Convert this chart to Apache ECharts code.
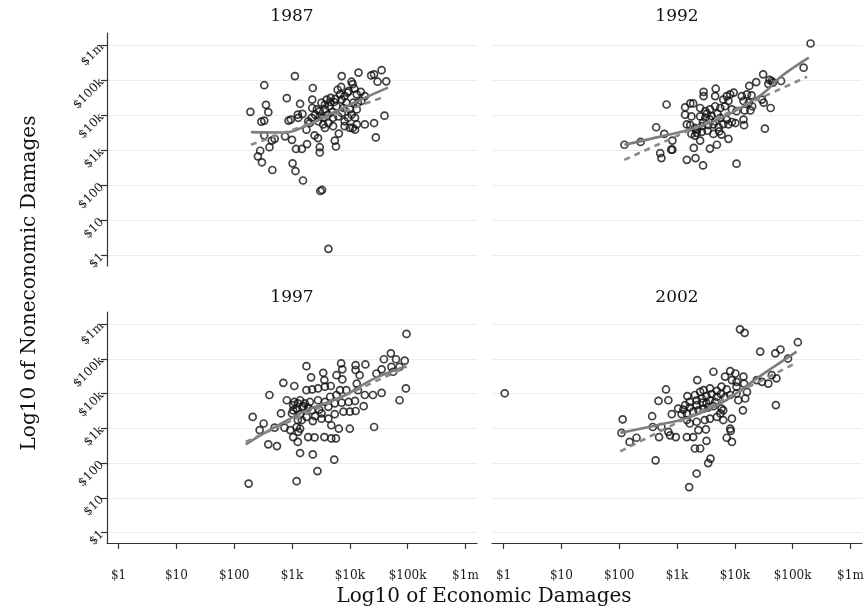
<!DOCTYPE html>
<html><head><meta charset="utf-8">
<script src="https://cdn.jsdelivr.net/npm/echarts@6/dist/echarts.min.js"></script>
<style>html,body{margin:0;padding:0;background:#fff}#c{width:867px;height:610px}</style>
</head><body><div id="c"></div>
<script>
// Values are log10 of dollars
const tickValues = [0, 1, 2, 3, 4, 5, 6];
const tickLabels = ['$1', '$10', '$100', '$1k', '$10k', '$100k', '$1m'];
const years = ['1987', '1992', '1997', '2002'];
const xTitle = 'Log10 of Economic Damages';
const yTitle = 'Log10 of Noneconomic Damages';

const pts1987 = [[3.05,5.12],[2.52,4.86],[3.86,5.12],[4.15,5.22],[4.42,5.17],[4.55,5.29],[4.48,4.96],[4.63,4.97],[4.37,5.14],[4.03,4.96],[4.05,4.89],[3.36,4.78],[3.85,4.81],[3.79,4.73],[3.96,4.65],[4.08,4.76],[4.19,4.67],[4.26,4.55],[2.91,4.49],[3.14,4.33],[3.35,4.45],[2.28,4.10],[2.55,4.30],[2.59,4.09],[2.47,3.82],[2.52,3.85],[2.94,3.85],[2.98,3.88],[3.10,4.02],[3.18,4.04],[3.11,3.93],
[3.51,4.36],[3.60,4.45],[3.67,4.50],[3.75,4.47],[3.64,4.26],[3.57,4.17],[3.48,4.12],[3.40,4.02],[3.45,3.83],[3.54,3.74],[3.63,3.78],[3.71,3.69],[3.80,3.97],[3.86,4.07],[3.91,3.83],[3.97,3.93],[4.03,4.02],[4.09,3.93],[4.12,4.17],[4.14,4.36],[4.06,4.36],[3.94,4.36],[3.86,4.45],[3.77,4.26],[3.70,4.09],[3.62,4.02],[3.43,4.17],[3.35,4.21],[3.31,3.78],[3.25,3.59],
[4.26,3.74],[4.42,3.78],[4.60,3.99],[4.45,3.37],[4.00,3.64],[4.09,3.59],[3.81,3.48],[3.74,3.28],[3.76,3.11],[3.39,3.43],[3.45,3.35],[3.26,3.18],[3.17,3.04],[3.07,3.04],[3.48,3.09],[3.48,2.94],
[2.52,3.43],[2.70,3.33],[2.65,3.28],[2.61,3.09],[2.45,2.99],[2.41,2.83],[2.48,2.66],[2.66,2.44],[2.88,3.40],[3.00,3.30],[3.01,2.63],[3.06,2.41],[3.19,2.14],[3.49,1.84],[3.52,1.87],[3.63,0.19],
[3.57,4.31],[3.66,4.38],[3.73,4.38],[3.83,4.60],[3.91,4.55],[3.98,4.69],[4.12,4.60],[4.20,4.41],[4.00,4.17],[3.89,4.21],[3.71,3.93],[3.54,3.93],[3.48,3.97],[3.57,3.64],[4.12,3.74],[4.05,3.64],[3.91,3.69],[3.34,3.93],[3.28,3.83]];

const pts1992 = [[5.31,6.05],[5.19,5.36],[4.49,5.17],[4.60,5.01],[4.64,4.98],[4.66,4.93],[4.58,4.90],[4.80,4.98],[4.37,4.95],[4.25,4.84],[3.67,4.76],[3.46,4.67],[3.46,4.55],[3.66,4.55],[3.86,4.55],[3.92,4.60],[3.98,4.65],[3.80,4.45],[3.89,4.41],[4.12,4.55],[4.21,4.60],[4.29,4.57],[4.15,4.41],[4.24,4.36],[4.30,4.26],[4.47,4.45],[4.50,4.36],[4.62,4.21],[2.82,4.31],[3.14,4.23],[3.23,4.34],[3.28,4.34],
[3.40,4.21],[3.49,4.12],[3.57,4.17],[3.66,4.26],[3.75,4.21],[3.83,4.26],[3.95,4.17],[4.03,4.12],[4.17,4.14],[4.27,4.14],
[3.14,4.02],[3.25,3.97],[3.40,3.97],[3.49,3.93],[3.57,3.88],[3.66,3.83],[3.75,3.93],[3.86,3.88],[3.95,3.81],[4.15,3.88],
[3.17,3.74],[3.23,3.72],[3.31,3.64],[3.43,3.69],[3.54,3.72],[3.63,3.74],[3.72,3.66],[3.80,3.75],[3.89,3.74],[4.01,3.78],[4.16,3.72],
[2.64,3.66],[2.78,3.47],[2.92,3.28],[3.25,3.47],[3.34,3.50],[3.43,3.53],[3.53,3.56],[3.63,3.47],[3.77,3.45],[3.73,3.54],[3.40,3.28],[3.31,3.42],[3.89,3.33],[4.52,3.62],
[2.09,3.16],[2.37,3.24],[2.90,3.02],[2.92,3.02],[2.71,2.92],[2.73,2.78],[3.29,3.07],[3.57,3.05],[3.69,3.16],[3.17,2.73],[3.32,2.78],[3.45,2.57],[4.03,2.62],
[3.52,4.05],[3.60,3.98],[3.70,4.05],[3.45,3.80],[3.35,3.60]];

const pts1997 = [[4.98,5.72],[4.71,5.16],[4.59,4.99],[4.80,4.99],[4.95,4.95],[4.72,4.77],[4.55,4.70],[4.46,4.58],[4.75,4.63],[4.86,4.77],[4.97,4.15],[4.86,3.81],
[3.85,4.87],[3.87,4.70],[4.10,4.82],[4.10,4.68],[4.27,4.84],[3.25,4.79],[3.54,4.60],[3.77,4.53],[3.87,4.41],
[3.33,4.47],[2.85,4.31],[3.04,4.22],[3.56,4.39],[3.67,4.22],[3.25,4.10],[3.35,4.12],[3.45,4.15],[3.57,4.20],
[3.83,4.10],[3.94,4.10],[4.12,4.29],[4.17,4.53],[4.14,4.10],[4.26,3.96],[4.40,3.96],[4.55,4.02],
[2.61,3.96],[2.91,3.81],[3.04,3.76],[3.14,3.81],[3.22,3.72],[3.31,3.76],[3.45,3.81],[3.57,3.76],[3.66,3.91],[3.77,3.96],
[3.08,3.57],[3.18,3.60],[3.34,3.52],[3.47,3.54],[3.63,3.62],[3.74,3.72],[3.86,3.74],[3.98,3.76],[4.09,3.79],
[2.81,3.43],[3.00,3.43],[3.14,3.41],[3.25,3.33],[3.40,3.35],[3.51,3.43],[3.74,3.41],[3.89,3.48],[4.00,3.48],[4.10,3.50],[4.24,3.64],
[3.36,3.21],[3.51,3.28],[3.63,3.28],[3.68,3.09],[3.81,2.99],[4.00,2.99],[4.42,3.04],[3.17,3.24],[3.08,3.04],[3.11,2.90],
[2.32,3.33],[2.51,3.14],[2.44,2.95],[2.70,3.02],[2.87,3.02],[2.97,2.95],
[3.02,2.75],[3.10,2.61],[3.28,2.75],[3.39,2.74],[3.56,2.75],[3.68,2.71],[3.76,2.71],
[2.59,2.54],[2.74,2.49],[3.14,2.29],[3.36,2.25],[3.73,2.10],[3.44,1.77],[2.25,1.41],[3.08,1.48],
[3.02,3.67],[3.10,3.72],[3.20,3.64],[3.28,3.60],[3.02,3.52],[3.14,2.99],[3.10,3.24]];

const pts2002 = [[4.09,5.85],[4.17,5.75],[5.09,5.48],[4.44,5.21],[4.70,5.16],[4.79,5.27],[4.92,5.01],[3.63,4.63],[3.35,4.39],
[3.92,4.65],[4.01,4.58],[3.83,4.49],[3.95,4.39],[4.03,4.34],[4.15,4.49],[4.16,4.29],[4.03,4.20],
[4.38,4.39],[4.47,4.34],[4.58,4.29],[4.64,4.53],[4.72,4.44],[4.71,3.67],
[2.81,4.12],[2.68,3.79],[2.85,3.81],[3.18,3.93],[3.31,3.96],[3.46,4.10],[3.57,4.15],[3.69,4.08],[3.77,4.20],[3.86,4.12],
[3.22,3.76],[3.34,3.81],[3.43,3.86],[3.51,3.93],[3.60,3.99],[3.69,3.91],[3.76,3.99],[3.83,3.89],[3.92,3.96],[4.03,4.01],[4.06,3.81],[4.18,3.86],[4.21,4.05],
[3.02,3.57],[3.11,3.54],[3.08,3.41],[3.17,3.43],[3.28,3.48],[3.37,3.52],[3.46,3.57],[3.54,3.60],[3.63,3.64],[3.77,3.57],[3.80,3.52],[4.14,3.52],[2.91,3.41],
[2.06,3.26],[2.57,3.35],[2.58,3.04],[2.73,3.04],[2.85,2.90],[2.88,2.80],[2.69,2.75],[2.18,2.61],[2.30,2.73],[2.04,2.87],
[3.17,3.24],[3.22,3.14],[3.34,3.19],[3.48,3.24],[3.57,3.28],[3.69,3.33],[3.80,3.24],[3.95,3.28],[3.75,3.43],
[2.98,2.75],[3.17,2.75],[3.28,2.75],[3.37,2.95],[3.50,2.97],[3.51,2.64],[3.40,2.42],[3.31,2.42],
[3.92,2.99],[3.93,2.93],[3.86,2.73],[3.95,2.61],
[2.63,2.08],[3.54,2.00],[3.58,2.13],[3.34,1.70],[3.21,1.31],[0.02,4.01],
[3.14,3.67],[3.22,3.60],[3.34,3.67],[3.44,3.74],[3.57,3.81],[3.66,3.76],[3.51,3.72],[3.40,4.05]];

const lowess1987 = [[2.29,3.52],[2.88,3.51],[3.28,3.73],[3.57,3.97],[4.14,4.41],[4.66,4.79]];
const lowess1992 = [[2.09,3.16],[2.73,3.40],[3.31,3.64],[3.89,4.02],[4.47,4.60],[4.81,5.12],[5.28,5.65]];
const lowess1997 = [[2.20,2.54],[2.71,3.04],[3.28,3.54],[3.86,3.91],[4.43,4.44],[4.98,4.79]];
const lowess2002 = [[2.02,2.87],[2.65,3.09],[3.23,3.33],[3.80,3.76],[4.38,4.44],[5.07,5.21]];

const fit1987 = [[2.29,3.16],[4.60,4.53]];
const fit1992 = [[2.09,2.73],[5.25,5.10]];
const fit1997 = [[2.20,2.61],[4.98,4.77]];
const fit2002 = [[2.02,2.34],[5.07,4.89]];

const points = [pts1987, pts1992, pts1997, pts2002];
const lowess = [lowess1987, lowess1992, lowess1997, lowess2002];
const fits = [fit1987, fit1992, fit1997, fit2002];

const FONT = 'DejaVu Serif';
const grids = [
  {left: 107, top: 33, width: 370, height: 233},
  {left: 492, top: 33, width: 370, height: 233},
  {left: 107, top: 312, width: 370, height: 231},
  {left: 492, top: 312, width: 370, height: 231}
];
const fmt = v => tickLabels[Math.round(v)];

const xAxes = grids.map((g, i) => {
  const show = i >= 2;
  return {
    type: 'value', gridIndex: i, min: -0.2, max: 6.2,
    axisLine: {show: show, onZero: false, lineStyle: {color: '#333', width: 1.2}},
    axisTick: {show: show, length: 6, customValues: tickValues, lineStyle: {color: '#333', width: 1.2}},
    axisLabel: {show: show, customValues: tickValues, formatter: fmt, margin: 27,
      fontFamily: FONT, fontSize: 12, color: '#1a1a1a'},
    splitLine: {show: false}
  };
});
const yAxes = grids.map((g, i) => {
  const show = i % 2 === 0;
  return {
    type: 'value', gridIndex: i, min: -0.3, max: 6.35,
    axisLine: {show: show, onZero: false, lineStyle: {color: '#333', width: 1.2}},
    axisTick: {show: show, length: 6, customValues: tickValues, lineStyle: {color: '#333', width: 1.2}},
    axisLabel: {show: show, customValues: tickValues, formatter: fmt, rotate: 45, margin: 5,
      fontFamily: FONT, fontSize: 12, color: '#1a1a1a'},
    splitLine: {show: true, lineStyle: {color: '#ececec', width: 1}}
  };
});

const series = [];
for (let i = 0; i < 4; i++) {
  series.push({
    type: 'scatter', xAxisIndex: i, yAxisIndex: i, data: points[i],
    symbol: 'circle', symbolSize: 7,
    itemStyle: {color: 'rgba(0,0,0,0)', borderColor: '#111', borderWidth: 1.7},
    z: 2, silent: true
  });
  series.push({
    type: 'line', xAxisIndex: i, yAxisIndex: i, data: lowess[i],
    showSymbol: false, smooth: 0.4,
    lineStyle: {color: '#7d7d7d', width: 2.6}, z: 3, silent: true
  });
  series.push({
    type: 'line', xAxisIndex: i, yAxisIndex: i, data: fits[i],
    showSymbol: false,
    lineStyle: {color: '#8a8a8a', width: 2.6, type: [6, 5]}, z: 3, silent: true
  });
}

const titlePos = [[292, 17], [677, 17], [292, 298], [677, 298]];
const graphic = years.map((y, i) => ({
  type: 'text', x: titlePos[i][0], y: titlePos[i][1],
  style: {text: y, fontFamily: FONT, fontSize: 17, fill: '#111', align: 'center', verticalAlign: 'middle'}
}));
graphic.push({
  type: 'text', x: 484, y: 597,
  style: {text: xTitle, fontFamily: FONT, fontSize: 20, fill: '#111', align: 'center', verticalAlign: 'middle'}
});
graphic.push({
  type: 'text', x: 30, y: 283, rotation: Math.PI / 2,
  style: {text: yTitle, fontFamily: FONT, fontSize: 20, fill: '#111', align: 'center', verticalAlign: 'middle'}
});

const chart = echarts.init(document.getElementById('c'), null, {renderer: 'canvas'});
chart.setOption({
  backgroundColor: '#fff',
  animation: false,
  grid: grids,
  xAxis: xAxes,
  yAxis: yAxes,
  series: series,
  graphic: graphic
});
</script></body></html>
